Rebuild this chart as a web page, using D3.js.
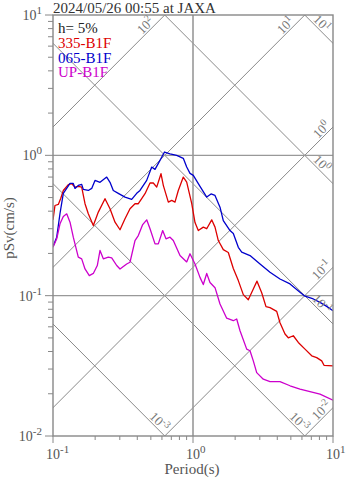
<!DOCTYPE html>
<html><head><meta charset="utf-8">
<script src="https://cdn.jsdelivr.net/npm/d3@7"></script>
<style>
body{margin:0;background:#fff}
text{font-family:"Liberation Serif","Times New Roman",serif}
</style>
</head><body>
<svg id="chart" width="347" height="478"></svg>
<script>
// Pseudo-velocity response spectra, tripartite log-log chart
const titleText = "2024/05/26 00:55 at JAXA";
const dampingText = "h= 5%";
const seriesNames = ["335-B1F", "065-B1F", "UP-B1F"];
const seriesColors = ["#dd0000", "#0000cc", "#cc00cc"];

// [period (s), pSv (cm/s)]
const s335 = [[0.1,0.347],[0.1033,0.439],[0.1091,0.447],[0.1135,0.493],[0.1185,0.562],[0.1286,0.618],[0.136,0.628],[0.1436,0.594],[0.1516,0.601],[0.1603,0.594],[0.1693,0.452],[0.1787,0.383],[0.1941,0.316],[0.2107,0.394],[0.2352,0.491],[0.2554,0.416],[0.2773,0.334],[0.3011,0.295],[0.3268,0.353],[0.3548,0.416],[0.3852,0.452],[0.4068,0.452],[0.4301,0.491],[0.4542,0.533],[0.4932,0.635],[0.5206,0.635],[0.5505,0.594],[0.5907,0.740],[0.6136,0.611],[0.6664,0.464],[0.7047,0.477],[0.7436,0.464],[0.7852,0.562],[0.8525,0.700],[0.9016,0.645],[0.9788,0.454],[1.0335,0.332],[1.0911,0.291],[1.1847,0.308],[1.2529,0.300],[1.3601,0.347],[1.4363,0.308],[1.5163,0.247],[1.646,0.213],[1.7871,0.203],[1.9408,0.156],[2.1072,0.128],[2.2875,0.1017],[2.4831,0.0936],[2.6962,0.1117],[2.8651,0.1269],[3.0953,0.105],[3.3218,0.0835],[3.548,0.0821],[3.9619,0.0772],[4.182,0.0641],[4.5413,0.0533],[4.7945,0.0501],[5.2058,0.0518],[5.6518,0.0464],[6.3096,0.0416],[7.0469,0.0373],[7.6473,0.0362],[8.3045,0.0343],[8.6238,0.0319],[10,0.0316]];
const s065 = [[0.1,0.224],[0.1063,0.261],[0.1122,0.385],[0.1185,0.536],[0.1323,0.631],[0.1396,0.631],[0.1436,0.581],[0.1516,0.611],[0.1603,0.621],[0.1646,0.572],[0.1787,0.562],[0.189,0.581],[0.1995,0.663],[0.2167,0.642],[0.2419,0.700],[0.2554,0.642],[0.2696,0.562],[0.2927,0.536],[0.3268,0.504],[0.3648,0.485],[0.3962,0.536],[0.4182,0.562],[0.4669,0.663],[0.507,0.825],[0.5354,0.794],[0.5811,0.921],[0.6257,1.056],[0.6851,1.025],[0.7648,1.0],[0.8525,0.952],[0.9016,0.825],[0.9519,0.744],[1.005,0.720],[1.122,0.601],[1.253,0.504],[1.345,0.531],[1.436,0.518],[1.559,0.427],[1.646,0.343],[1.838,0.291],[1.941,0.277],[2.107,0.221],[2.228,0.204],[2.554,0.193],[3.011,0.168],[3.548,0.147],[4.182,0.1315],[4.932,0.1212],[5.811,0.1056],[6.31,0.0992],[7.234,0.0947],[8.074,0.0896],[9.016,0.0839],[10,0.0781]];
const sUP = [[0.1,0.221],[0.1063,0.254],[0.1122,0.325],[0.1185,0.367],[0.1253,0.383],[0.1323,0.334],[0.1396,0.261],[0.1516,0.188],[0.1603,0.183],[0.1693,0.155],[0.1817,0.139],[0.1941,0.144],[0.2072,0.164],[0.2167,0.210],[0.2288,0.183],[0.2483,0.188],[0.2626,0.186],[0.2851,0.164],[0.3011,0.155],[0.336,0.168],[0.3548,0.173],[0.3852,0.247],[0.4068,0.268],[0.4372,0.321],[0.4669,0.347],[0.4932,0.300],[0.5354,0.234],[0.5652,0.234],[0.6075,0.291],[0.6413,0.254],[0.6851,0.261],[0.7234,0.247],[0.8074,0.193],[0.9016,0.174],[0.9519,0.199],[1.0335,0.168],[1.122,0.135],[1.1847,0.120],[1.2529,0.144],[1.3225,0.124],[1.4363,0.114],[1.5592,0.0873],[1.7404,0.0691],[1.9408,0.0663],[2.0516,0.0682],[2.1668,0.0562],[2.4188,0.0416],[2.554,0.0405],[2.6962,0.0343],[2.851,0.0283],[3.1775,0.0254],[3.548,0.0244],[4.182,0.0244],[4.932,0.0228],[5.811,0.0216],[6.85,0.0207],[8.074,0.0199],[10,0.0180]];
const seriesData = [s335, s065, sUP];

// Guide lines: constant pseudo-acceleration (cm/s2) and displacement (cm)
const accelExponents = [-2, -1, 0, 1, 2];
const dispExponents = [-3, -2, -1, 0, 1];
const dispLabelExponents = [-3, -3, -1, 0, 1];

const xTickExponents = [-1, 0, 1];
const yTickExponents = [-2, -1, 0, 1];
const xAxisTitle = "Period(s)";
const yAxisTitle = "pSv(cm/s)";

const svg = d3.select("#chart");
const L = 53, R = 333, T = 15, B = 436;
const x = d3.scaleLog().domain([0.1, 10]).range([L, R]);
const y = d3.scaleLog().domain([0.01, 10]).range([B, T]);
const gray = "#8a8a8a";

svg.append("defs").append("clipPath").attr("id", "plotClip")
  .append("rect").attr("x", L).attr("y", T).attr("width", R - L).attr("height", B - T);

const plot = svg.append("g").attr("clip-path", "url(#plotClip)");
const lineGen = d3.line().x(d => x(d[0])).y(d => y(d[1]));
const twoPi = 2 * Math.PI;

// ascending (acceleration) and descending (displacement) guides
accelExponents.forEach(k => {
  const A = Math.pow(10, k);
  plot.append("path").attr("d", lineGen([[0.01, A * 0.01 / twoPi], [100, A * 100 / twoPi]]))
    .attr("fill", "none").attr("stroke", gray).attr("stroke-width", 1);
});
dispExponents.forEach(k => {
  const D = Math.pow(10, k);
  plot.append("path").attr("d", lineGen([[0.01, twoPi * D / 0.01], [100, twoPi * D / 100]]))
    .attr("fill", "none").attr("stroke", gray).attr("stroke-width", 1);
});

// grid at decades
plot.append("line").attr("x1", x(1)).attr("x2", x(1)).attr("y1", T).attr("y2", B)
  .attr("stroke", "#999").attr("stroke-width", 1.6);
[1, 0.1].forEach(v => {
  plot.append("line").attr("x1", L).attr("x2", R).attr("y1", y(v)).attr("y2", y(v))
    .attr("stroke", "#999").attr("stroke-width", 1.4);
});

// guide labels
function superLabel(g, base, exp, fs) {
  const t = g.append("text").attr("fill", "#777").attr("font-size", fs)
    .attr("text-anchor", "middle").attr("dominant-baseline", "central");
  t.append("tspan").text(base);
  t.append("tspan").attr("dy", -4).attr("font-size", fs * 0.75).text(exp < 0 ? "-" + (-exp) : String(exp));
  return t;
}
accelExponents.forEach(k => {
  const A = Math.pow(10, k);
  // upper end of the ascending line inside the frame
  const tTop = 10 * twoPi / A;
  let ex, ey, back;
  if (tTop <= 10) { ex = x(tTop); ey = y(10); back = 21; }
  else { ex = x(10); ey = y(A * 10 / twoPi); back = 10; }
  if (ex < L || ey > B) return;
  const cx = ex - back / Math.SQRT2 - 7 / Math.SQRT2;
  const cy = ey + back / Math.SQRT2 - 7 / Math.SQRT2;
  const g = svg.append("g").attr("transform", `translate(${cx},${cy}) rotate(-45)`);
  superLabel(g, "10", k, 13);
});
dispExponents.forEach((k, i) => {
  const D = Math.pow(10, k);
  const tBot = twoPi * D / 0.01;
  let ex, ey, back;
  if (tBot <= 10) { ex = x(tBot); ey = y(0.01); back = 14; }
  else { ex = x(10); ey = y(twoPi * D / 10); back = 22; }
  if (ex < L || ey < T) return;
  const cx = ex - back / Math.SQRT2 + 7 / Math.SQRT2;
  const cy = ey - back / Math.SQRT2 - 7 / Math.SQRT2;
  const g = svg.append("g").attr("transform", `translate(${cx},${cy}) rotate(45)`);
  superLabel(g, "10", dispLabelExponents[i], 13);
});

// spectra
seriesData.forEach((s, i) => {
  plot.append("path").attr("d", lineGen(s)).attr("fill", "none")
    .attr("stroke", seriesColors[i]).attr("stroke-width", 1.3).attr("stroke-linejoin", "round");
});

// frame
svg.append("rect").attr("x", L).attr("y", T).attr("width", R - L).attr("height", B - T)
  .attr("fill", "none").attr("stroke", "#888").attr("stroke-width", 1.4);

// ticks
x.ticks().forEach(v => {
  const major = Math.abs(Math.log10(v) - Math.round(Math.log10(v))) < 1e-6;
  svg.append("line").attr("x1", x(v)).attr("x2", x(v)).attr("y1", B).attr("y2", B + (major ? 7 : 4))
    .attr("stroke", "#888").attr("stroke-width", 1);
});
y.ticks().forEach(v => {
  const major = Math.abs(Math.log10(v) - Math.round(Math.log10(v))) < 1e-6;
  svg.append("line").attr("x1", L).attr("x2", L - (major ? 8 : 5)).attr("y1", y(v)).attr("y2", y(v))
    .attr("stroke", "#888").attr("stroke-width", 1);
});

function tickLabel(px, py, exp, anchor) {
  const t = svg.append("text").attr("x", px).attr("y", py).attr("fill", "#555")
    .attr("font-size", 14).attr("text-anchor", anchor);
  t.append("tspan").text("10");
  t.append("tspan").attr("dy", -6).attr("font-size", 11).text(exp < 0 ? "-" + (-exp) : String(exp));
}
xTickExponents.forEach(e => tickLabel(x(Math.pow(10, e)) - 7, 459, e, "start"));
yTickExponents.forEach(e => tickLabel(42, y(Math.pow(10, e)) + 5, e, "end"));

// axis titles
svg.append("text").attr("x", 192).attr("y", 474).attr("text-anchor", "middle")
  .attr("font-size", 15).attr("fill", "#555").text(xAxisTitle);
svg.append("text").attr("transform", `translate(14,${228}) rotate(-90)`).attr("text-anchor", "middle")
  .attr("font-size", 15).attr("fill", "#555").text(yAxisTitle);

// title and legend
svg.append("text").attr("x", 53).attr("y", 12.5).attr("font-size", 15).attr("fill", "#333").text(titleText);
svg.append("text").attr("x", 58).attr("y", 33).attr("font-size", 15).attr("fill", "#222").text(dampingText);
seriesNames.forEach((n, i) => {
  svg.append("text").attr("x", 58).attr("y", 48 + i * 14.5).attr("font-size", 15)
    .attr("fill", seriesColors[i]).text(n);
});
</script>
</body></html>
